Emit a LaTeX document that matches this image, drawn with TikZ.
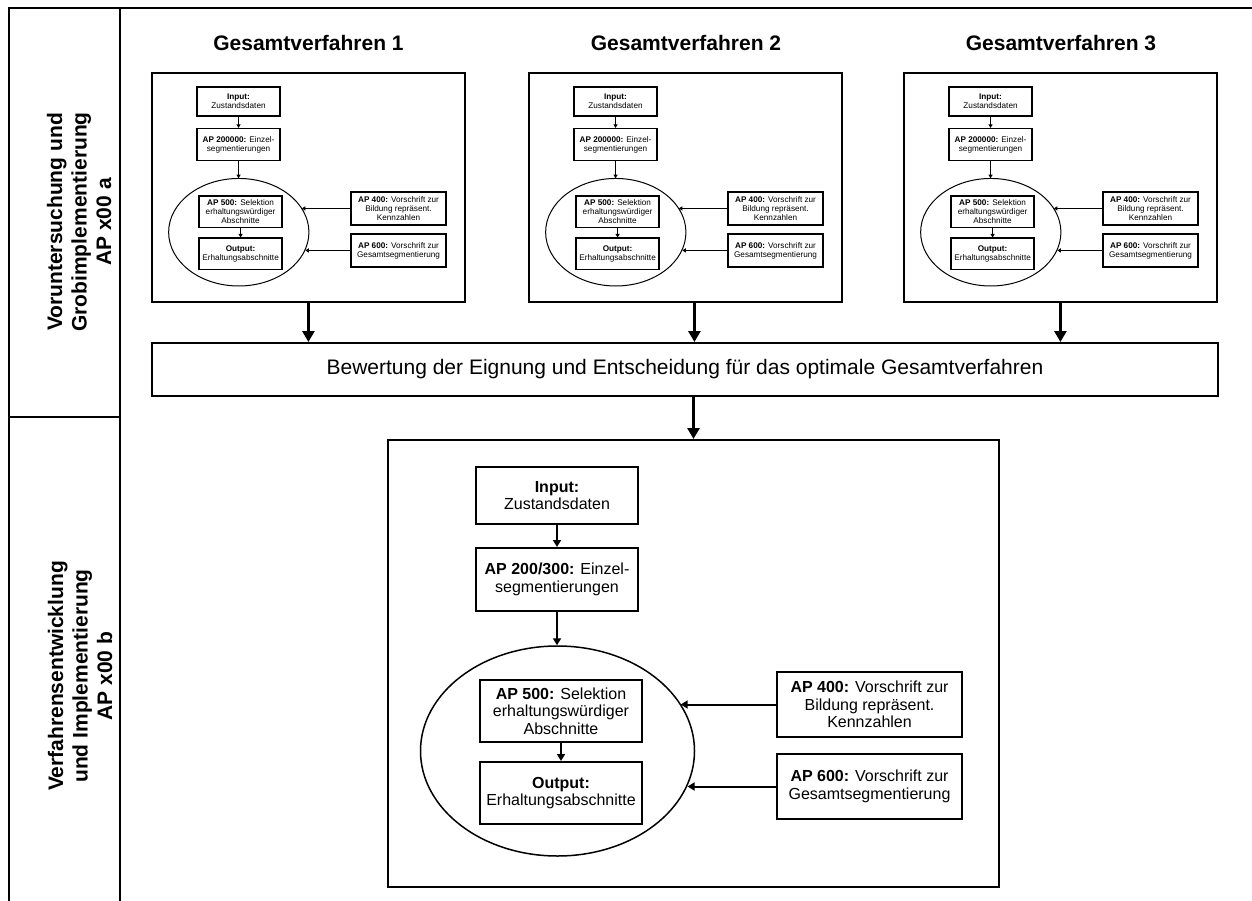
\documentclass[tikz,border=0pt]{standalone}
\usepackage{fontspec}
\setmainfont{Liberation Sans}
\usetikzlibrary{arrows.meta,shapes.geometric,calc}
\tikzset{
  frameline/.style={line width=2pt},
  panelbox/.style={draw,line width=2pt,minimum width=611pt,minimum height=447pt,inner sep=0pt},
  ibox/.style={draw,inner sep=0pt,align=center,font=\fontsize{16}{17.5}\selectfont},
  title/.style={font=\bfseries\fontsize{21}{24}\selectfont},
  sidelabel/.style={font=\bfseries\fontsize{21}{24.5}\selectfont,rotate=90,align=center},
  bigarr/.style={line width=3pt,-{Triangle[width=12pt,length=11pt]}},
}
% #1 prefix, #2 x, #3 y, #4 scale, #5 AP label, #6 box lw, #7 ellipse lw, #8 arrow lw
\newcommand\gvpanel[8]{%
\begin{scope}[shift={(#2,#3)},scale=#4,transform shape]
  \node[panelbox] (#1p) at (305.5,223.5) {};
  \node[ellipse,draw,line width=#7,minimum width=274pt,minimum height=210pt,inner sep=0pt] (#1ell) at (169.5,311) {};
  \node[ibox,line width=#6,minimum width=162pt,minimum height=57pt] (#1in) at (169,55.5) {\textbf{Input:}\\Zustandsdaten};
  \node[ibox,line width=#6,minimum width=162pt,minimum height=63pt] (#1aptwo) at (169,139.5) {\textbf{#5:} Einzel-\\segmentierungen};
  \node[ibox,line width=#6,minimum width=162pt,minimum height=62pt] (#1apfive) at (173,271) {\textbf{AP 500:} Selektion\\erhaltungswürdiger\\Abschnitte};
  \node[ibox,line width=#6,minimum width=162pt,minimum height=62pt] (#1out) at (173,353) {\textbf{Output:}\\Erhaltungsabschnitte};
  \node[ibox,line width=#6,minimum width=185pt,minimum height=65pt] (#1apfour) at (481.5,264.5) {\textbf{AP 400:} Vorschrift zur\\Bildung repräsent.\\Kennzahlen};
  \node[ibox,line width=#6,minimum width=185pt,minimum height=65pt] (#1apsix) at (481.5,346.5) {\textbf{AP 600:} Vorschrift zur\\Gesamtsegmentierung};
  \begin{scope}[line width=#8,-{Triangle[width=8pt,length=7pt,scale=#4]}]
    \draw (#1in.south) -- (#1aptwo.north);
    \draw (#1aptwo.south) -- (#1aptwo.south |- #1ell.north);
    \draw (#1apfive.south) -- (#1out.north);
    \draw (#1apfour.west) -- (#1apfour.west -| #1ell.21);
    \draw (#1apsix.west) -- (#1apsix.west -| #1ell.-15);
  \end{scope}
\end{scope}}
\begin{document}
\begin{tikzpicture}[x=1pt,y=-1pt]
\useasboundingbox (0,0) rectangle (1252,901);
% frame
\draw[frameline] (1252,8) -- (9,8) -- (9,901);
\draw[frameline] (120,8) -- (120,901);
\draw[frameline] (9,417) -- (120,417);
% side labels
\node[sidelabel] (lab1) at (79,222) {Voruntersuchung und\\Grobimplementierung\\AP x00 a};
\node[sidelabel] (lab2) at (80,676) {Verfahrensentwicklung\\und Implementierung\\AP x00 b};
% titles
\node[title] (t1) at (308.5,43) {Gesamtverfahren 1};
\node[title] (t2) at (686,43) {Gesamtverfahren 2};
\node[title] (t3) at (1061,43) {Gesamtverfahren 3};
% panels
\gvpanel{ga}{152}{73}{0.512}{AP 200000}{1.5pt}{1pt}{1.5pt}
\gvpanel{gb}{529}{73}{0.512}{AP 200000}{1.5pt}{1pt}{1.5pt}
\gvpanel{gc}{904}{73}{0.512}{AP 200000}{1.5pt}{1pt}{1.5pt}
\gvpanel{gd}{388}{440}{1}{AP 200/300}{2pt}{1.5pt}{2pt}
% evaluation box
\node[draw,line width=2pt,minimum width=1066pt,minimum height=53pt,inner sep=0pt,font=\fontsize{21}{24}\selectfont] (bew) at (685,369.5) {Bewertung der Eignung und Entscheidung für das optimale Gesamtverfahren};
% arrows
\draw[bigarr] (gap.south) -- (gap.south |- bew.north);
\draw[bigarr] ([xshift=9pt]gbp.south) -- ([xshift=9pt]gbp.south |- bew.north);
\draw[bigarr] (gcp.south) -- (gcp.south |- bew.north);
\draw[bigarr] (gdp.north |- bew.south) -- (gdp.north);
\end{tikzpicture}
\end{document}
